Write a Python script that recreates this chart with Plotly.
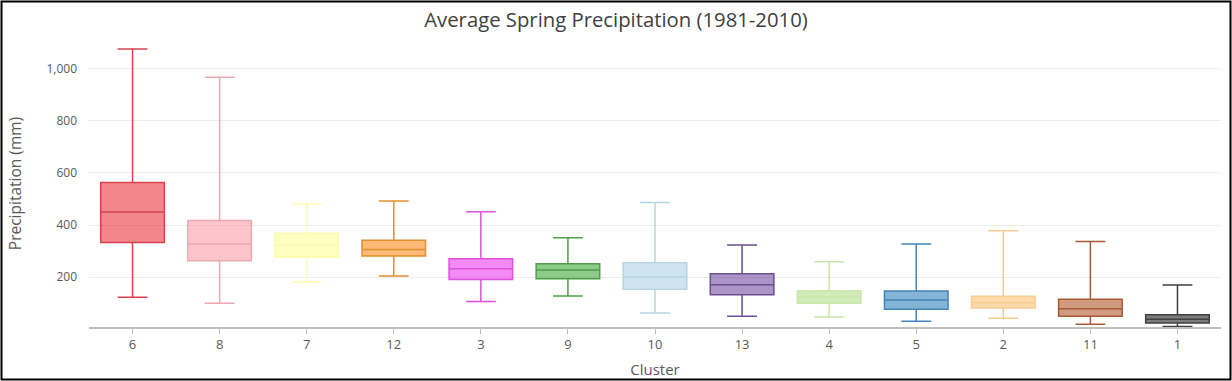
import plotly.graph_objects as go

clusters = ["6", "8", "7", "12", "3", "9", "10", "13", "4", "5", "2", "11", "1"]
lower_whisker = [122, 99, 182, 204, 106, 127, 62, 49, 46, 30, 42, 19, 10]
q1_values = [333, 263, 276, 281, 191, 193, 153, 132, 99, 76, 81, 49, 23]
median_values = [450, 327, 322, 306, 232, 227, 200, 170, 123, 112, 101, 78, 38]
q3_values = [563, 417, 368, 341, 270, 251, 255, 213, 147, 146, 126, 115, 55]
upper_whisker = [1076, 968, 481, 492, 451, 351, 486, 323, 259, 327, 378, 337, 169]

line_colors = ["#d8434f", "#eba9b2", "#fbfbb0", "#e0902f", "#dc52dc", "#4f9e49",
               "#b8d3e2", "#6b4f8e", "#c9e6aa", "#4384ba", "#f5cd93", "#a85a36", "#404040"]
fill_colors = ["rgba(232,55,62,0.6)", "rgba(252,150,160,0.55)", "rgba(255,255,150,0.6)",
               "rgba(255,140,30,0.6)", "rgba(235,60,240,0.6)", "rgba(45,160,40,0.55)",
               "rgba(166,206,227,0.55)", "rgba(106,61,154,0.55)", "rgba(178,223,138,0.6)",
               "rgba(31,120,180,0.55)", "rgba(253,191,111,0.6)", "rgba(177,89,40,0.6)",
               "rgba(80,80,80,0.75)"]

fig = go.Figure()
for i, c in enumerate(clusters):
    fig.add_trace(go.Box(
        x=[c],
        q1=[q1_values[i]], median=[median_values[i]], q3=[q3_values[i]],
        lowerfence=[lower_whisker[i]], upperfence=[upper_whisker[i]],
        line=dict(color=line_colors[i], width=1.5),
        fillcolor=fill_colors[i],
        width=0.73, whiskerwidth=0.47,
        boxpoints=False, showlegend=False, hoverinfo="skip",
    ))

font_family = "Open Sans, Noto Sans, sans-serif"
fig.update_layout(
    width=1232, height=381, autosize=False,
    margin=dict(l=89, r=11, t=40, b=54, autoexpand=False),
    paper_bgcolor="white", plot_bgcolor="white",
    boxmode="overlay",
    title=dict(text="Average Spring Precipitation (1981-2010)", x=0.5, xref="container",
               xanchor="center", y=0.948, yanchor="middle",
               font=dict(family=font_family, size=20.3, color="#404040")),
    font=dict(family=font_family, color="#595959"),
    xaxis=dict(type="category", categoryorder="array", categoryarray=clusters,
               range=[-0.5, len(clusters) - 0.5], autorange=False, automargin=False,
               showgrid=False, showline=True, linecolor="#bfbfbf", linewidth=1.5,
               ticks="outside", ticklen=5, tickcolor="#bfbfbf",
               tickfont=dict(size=13, color="#595959"),
               title=dict(text="Cluster", font=dict(size=15, color="#595959"), standoff=12)),
    yaxis=dict(range=[8, 1111], tickvals=[200, 400, 600, 800, 1000], tickformat=",",
               automargin=False,
               showgrid=True, gridcolor="#ececec", gridwidth=1, zeroline=False,
               showline=False, ticks="", ticklabelstandoff=11,
               tickfont=dict(size=12, color="#595959"),
               title=dict(text="Precipitation (mm)", font=dict(size=15.5, color="#595959"), standoff=21)),
)

fig.add_shape(type="rect", xref="paper", yref="paper",
              x0=(1.5 - 89) / 1132, x1=(1230.5 - 89) / 1132,
              y0=(327 - 379.5) / 287, y1=(327 - 1.5) / 287,
              line=dict(color="black", width=2), fillcolor="rgba(0,0,0,0)", layer="above")

fig.write_html("out.html", config={"responsive": False, "displayModeBar": False},
               post_script="document.body.style.margin='0';document.body.style.overflow='hidden';")
